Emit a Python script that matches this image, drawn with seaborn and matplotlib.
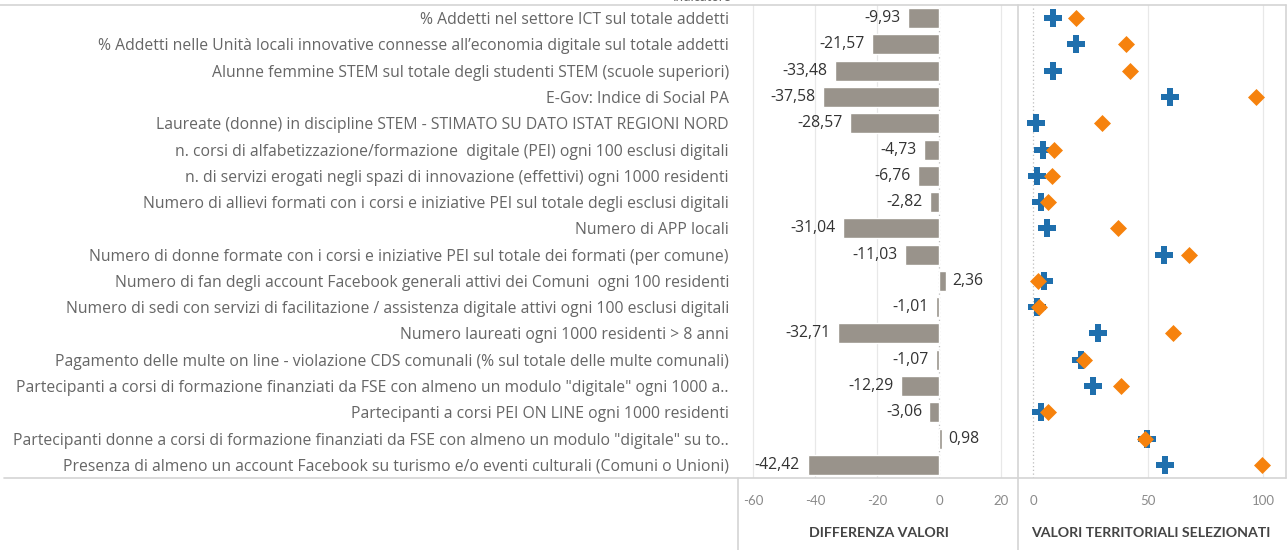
import matplotlib
matplotlib.use("Agg")
import matplotlib.pyplot as plt
import seaborn as sns
import pandas as pd

indicatori = [
    "% Addetti nel settore ICT sul totale addetti",
    "% Addetti nelle Unità locali innovative connesse all’economia digitale sul totale addetti",
    "Alunne femmine STEM sul totale degli studenti STEM (scuole superiori)",
    "E-Gov: Indice di Social PA",
    "Laureate (donne) in discipline STEM - STIMATO SU DATO ISTAT REGIONI NORD",
    "n. corsi di alfabetizzazione/formazione  digitale (PEI) ogni 100 esclusi digitali",
    "n. di servizi erogati negli spazi di innovazione (effettivi) ogni 1000 residenti",
    "Numero di allievi formati con i corsi e iniziative PEI sul totale degli esclusi digitali",
    "Numero di APP locali",
    "Numero di donne formate con i corsi e iniziative PEI sul totale dei formati (per comune)",
    "Numero di fan degli account Facebook generali attivi dei Comuni  ogni 100 residenti",
    "Numero di sedi con servizi di facilitazione / assistenza digitale attivi ogni 100 esclusi digitali",
    "Numero laureati ogni 1000 residenti > 8 anni",
    "Pagamento delle multe on line - violazione CDS comunali (% sul totale delle multe comunali)",
    "Partecipanti a corsi di formazione finanziati da FSE con almeno un modulo \"digitale\" ogni 1000 a..",
    "Partecipanti a corsi PEI ON LINE ogni 1000 residenti",
    "Partecipanti donne a corsi di formazione finanziati da FSE con almeno un modulo \"digitale\" su to..",
    "Presenza di almeno un account Facebook su turismo e/o eventi culturali (Comuni o Unioni)",
]
differenza = [-9.93, -21.57, -33.48, -37.58, -28.57, -4.73, -6.76, -2.82, -31.04,
              -11.03, 2.36, -1.01, -32.71, -1.07, -12.29, -3.06, 0.98, -42.42]
valore_blu = [8.7, 18.7, 8.7, 59.6, 1.3, 4.3, 1.7, 3.6, 6.1,
              57.0, 4.8, 1.7, 28.3, 20.9, 26.1, 3.5, 49.6, 57.4]
valore_arancio = [18.6, 40.3, 42.2, 97.2, 29.9, 9.0, 8.5, 6.4, 37.1,
                  68.0, 2.4, 2.7, 61.0, 22.0, 38.4, 6.6, 48.6, 99.8]
ticks_diff = [-60, -40, -20, 0, 20]
ticks_val = [0, 50, 100]

df = pd.DataFrame({"Indicatore": indicatori, "Differenza": differenza,
                   "Blu": valore_blu, "Arancio": valore_arancio})

sns.set_theme(style="white")
plt.rcParams["font.family"] = ["Lato", "DejaVu Sans"]

W, H = 1288, 550
fig = plt.figure(figsize=(W / 100, H / 100), dpi=100)

def ax_px(x0, y0, x1, y1):
    return fig.add_axes([x0 / W, 1 - y1 / H, (x1 - x0) / W, (y1 - y0) / H])

top, bottom = 5, 478
ax1 = ax_px(740, top, 1018, bottom)
ax2 = ax_px(1018, top, 1285, bottom)

BAR = "#99938b"
BLUE = "#1f6fad"
ORANGE = "#f6820d"
GRID = "#e8e8e8"
LINE = "#d4d4d4"

sns.barplot(data=df, x="Differenza", y="Indicatore", color=BAR, width=0.76,
            saturation=1, ax=ax1, orient="h")
ax1.set_xlim(-64.2, 25.5)
ax1.set_ylim(len(indicatori) - 0.5, -0.5)
for t in ticks_diff:
    if t == 0:
        ax1.axvline(0, color="#bdbdbd", lw=0.9, ls=(0, (1, 2)), zorder=0)
    else:
        ax1.axvline(t, color=GRID, lw=0.9, zorder=0)
for i, v in enumerate(differenza):
    lab = f"{v:.2f}".replace(".", ",")
    if v < 0:
        ax1.text(v - 2.4, i, lab, ha="right", va="center", fontsize=11.3,
                 color="#333333", family=["Open Sans", "DejaVu Sans"])
    else:
        ax1.text(v + 2.0, i, lab, ha="left", va="center", fontsize=11.3,
                 color="#333333", family=["Open Sans", "DejaVu Sans"])
ax1.set_xticks(ticks_diff)
ax1.set_xticklabels([str(t) for t in ticks_diff])
ax1.tick_params(axis="x", length=0, pad=12, labelsize=9.5, labelcolor="#8a8a8a")
ax1.tick_params(axis="y", length=0, pad=8, labelsize=11.3, labelcolor="#666666")
for lbl in ax1.get_yticklabels():
    lbl.set_family(["Open Sans", "DejaVu Sans"])
ax1.set_xlabel("")
ax1.set_ylabel("")
for s in ax1.spines.values():
    s.set_visible(False)

sns.scatterplot(data=df, x="Blu", y="Indicatore", marker="P", s=180, color=BLUE,
                linewidth=0, ax=ax2, zorder=3)
sns.scatterplot(data=df, x="Arancio", y="Indicatore", marker="D", s=75, color=ORANGE,
                linewidth=0, ax=ax2, zorder=4)
ax2.set_xlim(-6.5, 109.6)
ax2.set_ylim(len(indicatori) - 0.5, -0.5)
for t in ticks_val:
    if t == 0:
        ax2.axvline(0, color="#bdbdbd", lw=0.9, ls=(0, (1, 2)), zorder=0)
    else:
        ax2.axvline(t, color=GRID, lw=0.9, zorder=0)
ax2.set_xticks(ticks_val)
ax2.set_xticklabels([str(t) for t in ticks_val])
ax2.set_yticks([])
ax2.tick_params(axis="x", length=0, pad=12, labelsize=9.5, labelcolor="#8a8a8a")
ax2.set_xlabel("")
ax2.set_ylabel("")
for s in ax2.spines.values():
    s.set_visible(False)

# frame lines
def hline(y, x0, x1):
    fig.add_artist(plt.Line2D([x0 / W, x1 / W], [1 - y / H, 1 - y / H], color=LINE, lw=1.2))

def vline(x, y0, y1):
    fig.add_artist(plt.Line2D([x / W, x / W], [1 - y0 / H, 1 - y1 / H], color=LINE, lw=1.2))

hline(top, 0, 1286)
hline(bottom, 4, 1286)
vline(1018, top, H)
vline(738, bottom, H)
vline(1286, top, bottom)

fig.text(879 / W, 1 - 533 / H, "DIFFERENZA VALORI", ha="center", va="center",
         fontsize=10.2, color="#444444", fontweight="bold")
fig.text(1151 / W, 1 - 533 / H, "VALORI TERRITORIALI SELEZIONATI", ha="center", va="center",
         fontsize=10.2, color="#444444", fontweight="bold")
fig.text(731 / W, 1 - (-3) / H, "Indicatore", ha="right", va="center",
         fontsize=9.5, color="#666666")

fig.savefig("out.png", dpi=100)
